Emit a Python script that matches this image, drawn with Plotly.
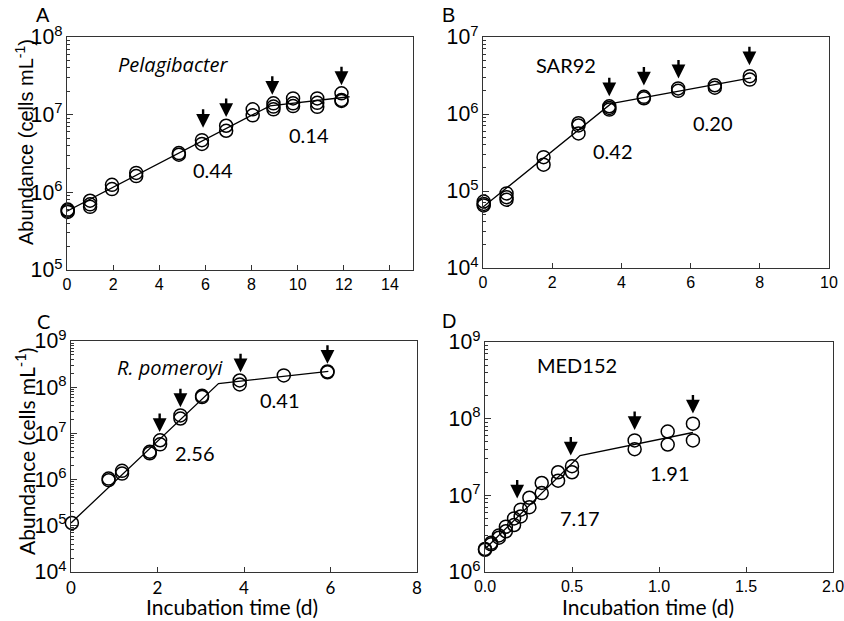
import numpy as np
import plotly.graph_objects as go

# ---------------- data ----------------
# Panel A - Pelagibacter
a_x = [0.03, 0.03, 0.03, 1.0, 1.0, 1.0, 1.95, 1.95, 3.0, 3.0, 4.85, 4.85, 5.85, 5.85,
       6.9, 6.9, 8.05, 8.05, 8.95, 8.95, 8.95, 9.8, 9.8, 9.8, 10.85, 10.85, 10.85, 11.9, 11.9, 11.9]
a_y = [6.0e5, 5.6e5, 5.8e5, 7.8e5, 7.0e5, 6.5e5, 1.25e6, 1.1e6, 1.78e6, 1.62e6, 3.2e6, 3.05e6,
       4.7e6, 4.2e6, 7.2e6, 6.2e6, 1.17e7, 9.8e6, 1.4e7, 1.27e7, 1.17e7, 1.62e7, 1.4e7, 1.29e7,
       1.62e7, 1.42e7, 1.26e7, 1.88e7, 1.55e7, 1.5e7]
a_fit_x = [0, 8.8, 12.25]
a_fit_y = [5.7e5, 1.3e7, 1.7e7]
a_arrow_x = [5.9, 6.9, 8.9, 11.9]
a_arrow_y = [6.8e6, 9.3e6, 1.8e7, 2.4e7]

# Panel B - SAR92
b_x = [0.02, 0.02, 0.02, 0.68, 0.68, 0.68, 1.75, 1.75, 2.76, 2.76, 2.76, 3.65, 3.65, 3.65,
       4.65, 4.65, 5.64, 5.64, 6.7, 6.7, 7.71, 7.71]
b_y = [7.3e4, 6.8e4, 6.5e4, 9.3e4, 8.3e4, 7.7e4, 2.75e5, 2.2e5, 7.6e5, 7.1e5, 5.6e5,
       1.26e6, 1.2e6, 1.14e6, 1.67e6, 1.6e6, 2.15e6, 2.0e6, 2.36e6, 2.2e6, 3.1e6, 2.8e6]
b_fit_x = [0, 3.7, 7.75]
b_fit_y = [6.2e4, 1.36e6, 2.95e6]
b_arrow_x = [3.65, 4.65, 5.65, 7.7]
b_arrow_y = [1.7e6, 2.35e6, 2.9e6, 4.3e6]

# Panel C - R. pomeroyi
c_x = [0.02, 0.87, 0.87, 1.18, 1.18, 1.82, 1.82, 2.06, 2.06, 2.53, 2.53, 3.03, 3.03,
       3.9, 3.9, 4.92, 5.93, 5.93]
c_y = [1.15e5, 1.05e6, 0.97e6, 1.55e6, 1.35e6, 4.0e6, 3.7e6, 7.1e6, 5.8e6, 2.45e7, 2.1e7,
       6.5e7, 6.1e7, 1.4e8, 1.15e8, 1.8e8, 2.2e8, 2.1e8]
c_fit_x = [0, 3.41, 5.95]
c_fit_y = [1.15e5, 1.2e8, 2.2e8]
c_arrow_x = [2.05, 2.53, 3.92, 5.93]
c_arrow_y = [1.07e7, 3.7e7, 2.1e8, 3.2e8]

# Panel D - MED152
d_x = [0.0, 0.0, 0.035, 0.035, 0.08, 0.08, 0.12, 0.12, 0.167, 0.167, 0.205, 0.205, 0.255, 0.255,
       0.326, 0.326, 0.42, 0.42, 0.5, 0.5, 0.86, 0.86, 1.05, 1.05, 1.195, 1.195]
d_y = [2.0e6, 1.95e6, 2.4e6, 2.3e6, 3.0e6, 2.8e6, 3.9e6, 3.4e6, 5.0e6, 4.1e6, 6.5e6, 5.3e6,
       9.3e6, 7.0e6, 1.45e7, 1.07e7, 2.0e7, 1.55e7, 2.4e7, 2.0e7, 5.2e7, 4.0e7, 6.8e7, 4.6e7,
       8.6e7, 5.2e7]
d_fit_x = [0, 0.546, 1.195]
d_fit_y = [2.0e6, 3.3e7, 6.6e7]
d_arrow_x = [0.185, 0.493, 0.86, 1.195]
d_arrow_y = [9.1e6, 3.3e7, 7.1e7, 1.17e8]

# text labels: (text, x, y, italic)
a_labels = [("Pelagibacter", 4.62, 4.4e7, True), ("0.44", 6.33, 1.95e6, False), ("0.14", 10.49, 5.5e6, False)]
b_labels = [("SAR92", 2.40, 4.3e6, False), ("0.42", 3.76, 3.3e5, False), ("0.20", 6.65, 7.6e5, False)]
c_labels = [("R. pomeroyi", 2.30, 2.7e8, True), ("2.56", 2.87, 3.7e6, False), ("0.41", 4.84, 5.2e7, False)]
d_labels = [("MED152", 0.529, 5.0e8, False), ("7.17", 0.546, 5.1e6, False), ("1.91", 1.064, 1.95e7, False)]

panel_letters = ["A", "B", "C", "D"]
x_ranges = [[0, 15], [0, 10], [0, 8], [0, 2]]
x_dticks = [2, 2, 2, 0.5]
y_decades = [[5, 8], [4, 7], [4, 9], [6, 9]]
x_title = "Incubation time (d)"
y_title = "Abundance (cells mL<sup>-1</sup>)"

# ---------------- layout geometry ----------------
W, H = 844, 621
boxes = [  # left, top, right, bottom in px
    (67, 37, 413, 270),
    (483, 37, 829, 268),
    (71, 341, 417, 572),
    (485, 342, 833, 572),
]
ARIAL = "Liberation Sans, Arial, sans-serif"
CALI = "Lato, Carlito, sans-serif"
ITAL = "Open Sans, Noto Sans, sans-serif"

fig = go.Figure()
panels = [
    (a_x, a_y, a_fit_x, a_fit_y, a_arrow_x, a_arrow_y, a_labels),
    (b_x, b_y, b_fit_x, b_fit_y, b_arrow_x, b_arrow_y, b_labels),
    (c_x, c_y, c_fit_x, c_fit_y, c_arrow_x, c_arrow_y, c_labels),
    (d_x, d_y, d_fit_x, d_fit_y, d_arrow_x, d_arrow_y, d_labels),
]
annotations = []
for i, (px, py, fx, fy, ax_, ay_, labels) in enumerate(panels):
    n = "" if i == 0 else str(i + 1)
    xa, ya = "x" + n, "y" + n
    fig.add_trace(go.Scatter(x=fx, y=fy, mode="lines", xaxis=xa, yaxis=ya,
                             line=dict(color="black", width=1.3), showlegend=False, hoverinfo="skip"))
    fig.add_trace(go.Scatter(x=px, y=py, mode="markers", xaxis=xa, yaxis=ya, cliponaxis=False,
                             marker=dict(symbol="circle-open", size=13, color="black",
                                         line=dict(width=1.5, color="black")),
                             showlegend=False))
    l, t, r, b = boxes[i]
    tickfont_x = dict(family=CALI if i == 2 else ARIAL, size=17 if i == 2 else 16, color="black")
    fig.update_layout(**{
        "xaxis" + n: dict(domain=[l / W, r / W], anchor=ya, range=x_ranges[i], dtick=x_dticks[i],
                          tick0=0, ticks="inside", ticklen=5, tickwidth=1, tickcolor="#333",
                          showline=True, linecolor="#333", linewidth=1.2, mirror=True,
                          showgrid=False, zeroline=False, tickfont=tickfont_x,
                          ticklabeloverflow="allow",
                          tickformat=".1f" if i == 3 else "d", automargin=False),
        "yaxis" + n: dict(domain=[1 - b / H, 1 - t / H], anchor=xa, type="log", range=y_decades[i],
                          dtick=1, ticks="inside", ticklen=6, tickwidth=1, tickcolor="#333",
                          minor=dict(ticks="inside", ticklen=3, tickcolor="#333", dtick="D1", showgrid=False),
                          showline=True, linecolor="#333", linewidth=1.2, mirror=True,
                          showgrid=False, zeroline=False, exponentformat="power",
                          ticklabeloverflow="allow",
                          tickfont=dict(family=ARIAL, size=17, color="black"), automargin=False),
    })
    for xv, yv in zip(ax_, ay_):
        annotations.append(dict(x=xv, y=np.log10(yv), xref=xa, yref=ya, showarrow=True,
                                ax=0, ay=-20, text="", arrowhead=2, arrowsize=1.15,
                                arrowwidth=2.4, arrowcolor="black"))
    for txt, xv, yv, ital in labels:
        annotations.append(dict(x=xv, y=np.log10(yv), xref=xa, yref=ya, showarrow=False,
                                text=txt, xanchor="center", yanchor="middle",
                                font=dict(family=ITAL if ital else CALI, size=20,
                                          color="black", style="italic" if ital else "normal")))

def paper_note(text, xp, yp, font, angle=0):
    annotations.append(dict(x=xp / W, y=1 - yp / H, xref="paper", yref="paper", showarrow=False,
                            text=text, textangle=angle, xanchor="center", yanchor="middle", font=font))

# panel letters
for letter, (xp, yp) in zip(panel_letters, [(43, 15), (448, 15), (43, 321), (449, 321)]):
    paper_note(letter, xp, yp, dict(family=ARIAL if letter != "C" else CALI, size=20, color="black"))
# axis titles
paper_note(y_title, 24, 142, dict(family=ARIAL, size=20, color="black"), -90)
paper_note(y_title, 25, 452, dict(family=CALI, size=21, color="black"), -90)
paper_note(x_title, 232, 606, dict(family=CALI, size=21, color="black"))
paper_note(x_title, 648, 606, dict(family=CALI, size=21, color="black"))

fig.update_layout(width=W, height=H, margin=dict(l=0, r=0, t=0, b=0, autoexpand=False),
                  paper_bgcolor="white", plot_bgcolor="white", annotations=annotations,
                  showlegend=False)
fig.write_html("out.html")
